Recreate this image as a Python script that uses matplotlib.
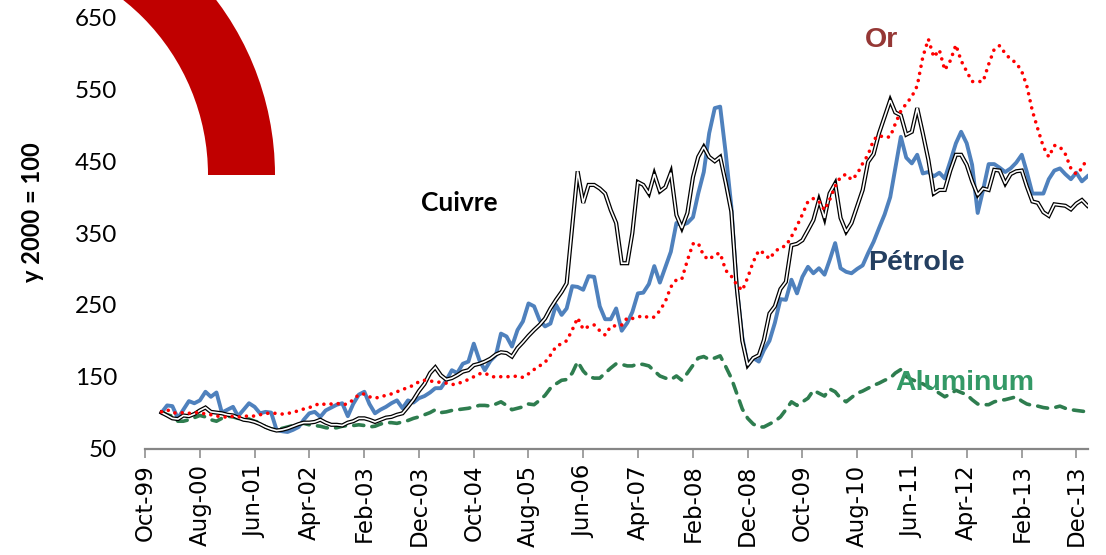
import matplotlib
matplotlib.use('Agg')
import matplotlib.pyplot as plt
from matplotlib.patches import Wedge
import pandas as pd

# ---- data (monthly, Jan-2000 .. Feb-2014, index 2000 = 100) ----
start_month = '2000-01-01'

petrole = [100, 110, 109, 92, 104, 116, 113, 117, 129, 122, 128, 100, 104, 108, 95, 104, 113, 108, 99, 101,
           100, 76, 74, 73, 76, 80, 90, 99, 101, 94, 103, 107, 111,
           113, 95, 112, 125, 129, 112, 99, 104, 108, 113, 117, 106, 117, 114, 120, 123, 128, 134, 134, 145,
           159, 155, 168, 171, 196, 173, 159, 172, 180, 210, 206, 192, 215, 227, 252,
           248, 229, 220, 224, 250, 236, 245, 276, 275, 271, 290, 289, 248, 230, 230, 245, 214, 225, 240, 266,
           267, 279, 304, 281, 303, 324, 364, 361, 364, 372, 405, 435, 489, 524, 526,
           461, 387, 275, 205, 166, 176, 171, 187, 200, 225, 258, 257, 285, 266, 289, 303, 294, 301, 292, 312,
           336, 301, 296, 294, 300, 305, 322, 338, 357, 376, 400, 440, 484, 455, 447, 459, 433, 435, 429, 434,
           426, 450, 475, 491, 475, 445, 378, 410, 446, 446, 441, 435, 440, 448, 459, 435, 405, 405, 405, 425,
           437, 440, 432, 425, 434, 422, 429]

cuivre = [100, 96, 92, 91, 96, 95, 98, 103, 107, 101, 100, 99, 97, 96, 93, 90, 89, 87, 84, 80,
          77, 75, 76, 78, 81, 84, 86, 86, 87, 90, 86, 83, 83,
          82, 86, 88, 92, 92, 90, 87, 90, 93, 94, 97, 99, 108, 118, 130, 140, 155, 163, 152, 146,
          148, 152, 157, 159, 166, 168, 171, 175, 181, 184, 183, 178, 190, 198, 207,
          215, 222, 231, 245, 257, 268, 280, 360, 436, 392, 417, 417, 412, 405, 382, 364, 308, 308, 350, 421,
          417, 405, 432, 408, 414, 434, 375, 357, 378, 428, 456, 470, 456, 450, 456,
          420, 380, 275, 200, 166, 176, 180, 201, 238, 248, 272, 282, 333, 335, 340, 354, 368, 396, 371, 405,
          419, 371, 352, 364, 387, 410, 449, 460, 489, 512, 535, 518, 514, 487, 491, 524, 489, 452, 405, 410,
          410, 437, 459, 459, 445, 422, 403, 412, 410, 438, 437, 419, 432, 436, 437, 415, 394, 392, 379, 374,
          390, 389, 388, 383, 391, 396, 388]

or_ = [101, 104, 100, 99, 100, 99, 100, 100, 98, 97, 95, 95, 93, 95, 94, 94, 96, 95, 97, 99,
       99, 99, 98, 99, 100, 103, 105, 107, 110, 113, 111, 112, 113,
       111, 112, 118, 125, 126, 122, 120, 122, 124, 126, 129, 132, 135, 138, 143, 145, 144, 143, 142, 141,
       139, 140, 143, 146, 150, 154, 155, 151, 149, 150, 150, 150, 151, 149, 154,
       160, 165, 170, 180, 192, 196, 200, 215, 232, 216, 220, 222, 214, 208, 220, 221, 222, 232, 231, 233,
       235, 232, 233, 242, 255, 275, 285, 286, 312, 335, 336, 318, 313, 320, 322,
       298, 290, 278, 270, 288, 310, 326, 322, 314, 324, 330, 332, 345, 360, 376, 394, 398, 394, 382, 396,
       415, 428, 432, 424, 432, 447, 459, 480, 486, 483, 484, 502, 520, 530, 540, 555, 595, 620, 595, 605,
       577, 590, 612, 590, 575, 561, 561, 561, 585, 606, 611, 600, 592, 587, 575, 555, 520, 495, 470, 456,
       472, 470, 460, 440, 432, 440, 455]

aluminum = [101, 97, 95, 88, 88, 90, 93, 96, 94, 90, 88, 92, 95, 94, 92, 91, 91, 88, 86, 80,
            77, 76, 78, 80, 82, 84, 85, 83, 82, 81, 79, 78, 79, 81, 82, 82, 83, 82, 80, 81,
            84, 86, 86, 85, 87, 89, 92, 94, 97, 100, 104, 100, 101,
            103, 104, 105, 106, 108, 110, 110, 109, 112, 115, 110, 104, 106, 108, 112, 111, 117, 124, 134, 140,
            145, 146, 155, 171, 158, 150, 148, 148, 155, 162, 168, 167, 165, 165, 168, 167, 165, 158, 151, 148,
            146, 151, 145, 155, 166, 176, 178, 174, 176, 179, 164, 148, 127, 105, 92, 84, 80, 80, 84, 88,
            94, 104, 115, 110, 115, 120, 131, 127, 123, 133, 129, 120, 115, 121, 127, 130, 134, 138, 141, 145,
            148, 155, 160, 150, 146, 143, 140, 136, 132, 127, 122, 126, 131, 128, 125, 118, 112, 111, 111, 115,
            117, 118, 120, 122, 116, 112, 110, 109, 107, 106, 107, 109, 106, 104, 103, 102, 101]

tick_dates = ['1999-10-01', '2000-08-01', '2001-06-01', '2002-04-01', '2003-02-01', '2003-12-01',
              '2004-10-01', '2005-08-01', '2006-06-01', '2007-04-01', '2008-02-01', '2008-12-01',
              '2009-10-01', '2010-08-01', '2011-06-01', '2012-04-01', '2013-02-01', '2013-12-01']
tick_labels = ['Oct-99', 'Aug-00', 'Jun-01', 'Apr-02', 'Feb-03', 'Dec-03', 'Oct-04', 'Aug-05', 'Jun-06',
               'Apr-07', 'Feb-08', 'Dec-08', 'Oct-09', 'Aug-10', 'Jun-11', 'Apr-12', 'Feb-13', 'Dec-13']
y_ticks = [50, 150, 250, 350, 450, 550, 650]

# ---- figure ----
W, H = 1106, 555
fig = plt.figure(figsize=(W / 100, H / 100), dpi=100)
ax = fig.add_axes([145 / W, 1 - 448.5 / H, 943 / W, (448.5 - 17.6) / H])

dates = pd.date_range(start_month, periods=len(petrole), freq='MS')

ax.plot(dates, petrole, color='#4F81BD', lw=2.8, solid_joinstyle='round', zorder=2)
ax.plot(dates, aluminum, color='#2E7D4F', lw=2.6, linestyle=(0, (2.8, 2.3)),
        dash_capstyle='round', zorder=2.5)
ax.plot(dates, cuivre, color='black', lw=3.0, solid_joinstyle='miter', zorder=3)
ax.plot(dates, cuivre, color='white', lw=1.2, solid_joinstyle='miter', zorder=3.1)
ax.plot(dates, or_, color='#FF0000', lw=2.6, linestyle=(0, (0.01, 2.0)),
        dash_capstyle='round', zorder=4)

ax.set_xlim(pd.Timestamp('1999-10-01'), pd.Timestamp('2014-02-04'))
ax.set_ylim(50, 650)
ax.set_yticks(y_ticks)
ax.set_yticklabels([str(v) for v in y_ticks], fontfamily='Lato', fontsize=17.5)
ax.set_xticks(pd.to_datetime(tick_dates))
ax.set_xticklabels(tick_labels, rotation=90, fontfamily='DejaVu Sans', fontsize=16.5)

for s in ['left', 'top', 'right']:
    ax.spines[s].set_visible(False)
ax.spines['bottom'].set_color('#868686')
ax.spines['bottom'].set_linewidth(1.6)
ax.tick_params(axis='y', length=0, pad=20)
ax.tick_params(axis='x', length=6.5, width=1.1, color='#868686', direction='out', pad=5)

# y axis title
fig.text(33 / W, 1 - 212 / H, 'y 2000 = 100', rotation=90, ha='center', va='center',
         fontweight='bold', fontsize=17, fontfamily='Lato')

# series labels
fig.text(459 / W, 1 - 203 / H, 'Cuivre', ha='center', va='center', fontweight='bold',
         fontsize=19, fontfamily='Lato', color='black', zorder=10)
fig.text(881 / W, 1 - 40 / H, 'Or', ha='center', va='center', fontweight='bold',
         fontsize=20.5, fontfamily='Liberation Sans', color='#953735', zorder=10)
fig.text(916 / W, 1 - 263 / H, 'Pétrole', ha='center', va='center', fontweight='bold',
         fontsize=20.5, fontfamily='Liberation Sans', color='#243F60', zorder=10)
fig.text(965 / W, 1 - 383 / H, 'Aluminum', ha='center', va='center', fontweight='bold',
         fontsize=20.5, fontfamily='Liberation Sans', color='#339966', zorder=10)

# decorative red quarter ring
ring = Wedge((-0.15, (H - 175) / 100), 2.90, 0, 90, width=0.67,
             transform=fig.dpi_scale_trans, facecolor='#C00000', edgecolor='none', zorder=20)
fig.add_artist(ring)

fig.savefig('out.png', dpi=100)
